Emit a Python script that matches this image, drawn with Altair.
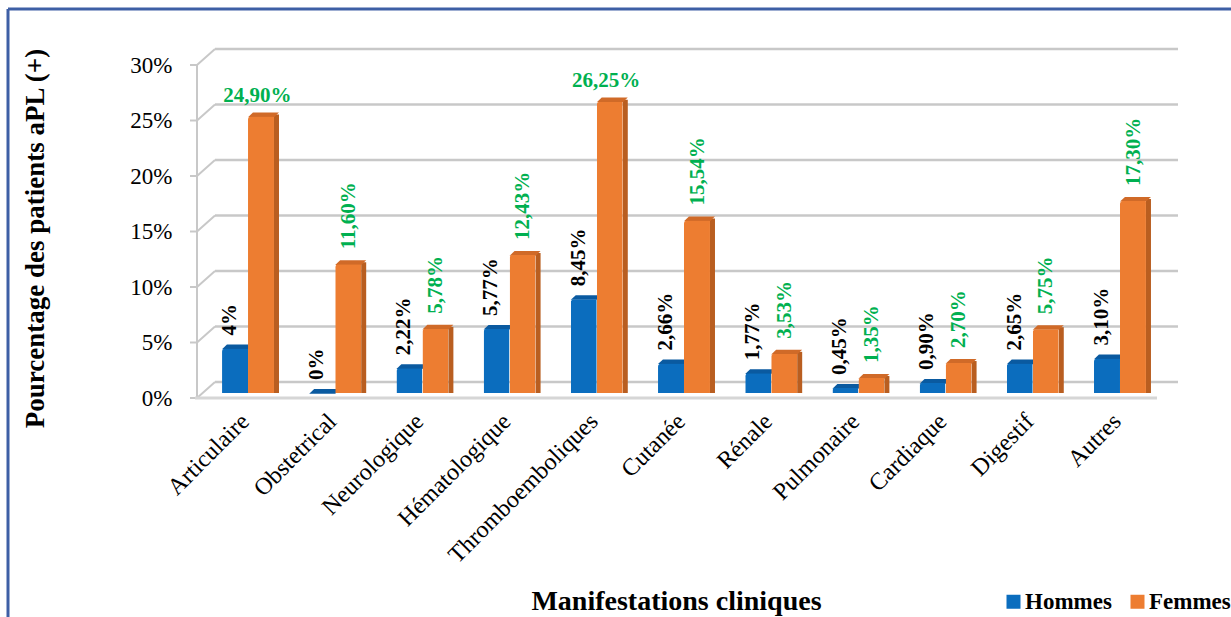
import altair as alt
import pandas as pd

categories = ["Articulaire", "Obstetrical", "Neurologique", "Hématologique",
              "Thromboemboliques", "Cutanée", "Rénale", "Pulmonaire",
              "Cardiaque", "Digestif", "Autres"]
series = ["Hommes", "Femmes"]
hommes = [4, 0, 2.22, 5.77, 8.45, 2.66, 1.77, 0.45, 0.90, 2.65, 3.10]
femmes = [24.90, 11.60, 5.78, 12.43, 26.25, 15.54, 3.53, 1.35, 2.70, 5.75, 17.30]
hommes_labels = ["4%", "0%", "2,22%", "5,77%", "8,45%", "2,66%", "1,77%",
                 "0,45%", "0,90%", "2,65%", "3,10%"]
femmes_labels = ["24,90%", "11,60%", "5,78%", "12,43%", "26,25%", "15,54%",
                 "3,53%", "1,35%", "2,70%", "5,75%", "17,30%"]
y_ticks = [0, 5, 10, 15, 20, 25, 30]
horizontal_cats = ["Articulaire", "Thromboemboliques"]

FONT = "Liberation Serif"
BLUE, ORANGE = "#0B6DBE", "#ED7D31"
DBLUE, DORANGE = "#0A5599", "#B95E20"
TBLUE, TORANGE = "#0A5AA0", "#D06A28"
GRID = "#C8C8C8"
GREEN = "#00B050"
CAP_SHAPE = "M -1 0.05 L 1 0.05 L 1.38 -0.31 L -0.62 -0.31 Z"

rows = []
for c, h, f, hl, fl in zip(categories, hommes, femmes, hommes_labels, femmes_labels):
    rows.append({"cat": c, "sexe": "Hommes", "val": h, "lab": hl})
    rows.append({"cat": c, "sexe": "Femmes", "val": f, "lab": fl})
df = pd.DataFrame(rows)
ticks_df = pd.DataFrame({"t": y_ticks})
one = pd.DataFrame({"k": [0]})

yscale = alt.Scale(domain=[0, 30], nice=False)
xscale = alt.Scale(paddingInner=0.404, paddingOuter=0.287)

yaxis = alt.Axis(values=y_ticks, labelExpr="datum.value + '%'", grid=False,
                 domain=False, ticks=False, labelPadding=25, labelOffset=5,
                 labelFont=FONT, labelFontSize=23, labelColor="#000",
                 title="Pourcentage des patients aPL (+)", titleFont=FONT,
                 titleFontSize=27, titleFontWeight="bold", titleColor="#000",
                 titleX=-162, titleY=178, titleAngle=270, titleAlign="center",
                 titleBaseline="middle")
xaxis = alt.Axis(labelAngle=-45, labelAlign="right", labelBaseline="top",
                 ticks=False, tickSize=0, domain=False, grid=False,
                 labelPadding=16, labelOffset=-11, labelFont=FONT,
                 labelFontSize=24, labelColor="#000", labelLimit=400,
                 labelOverlap=False,
                 title="Manifestations cliniques", titleFont=FONT,
                 titleFontSize=28, titleFontWeight="bold", titleColor="#000",
                 titleX=479, titleY=208, titleAlign="center",
                 titleBaseline="middle")


def X(**kw):
    return alt.X("cat:N", sort=categories, scale=xscale, axis=xaxis, **kw)


def Yv():
    return alt.Y("val:Q", scale=yscale, axis=yaxis)


def Yt(agg="t:Q"):
    return alt.Y(agg, scale=yscale, axis=yaxis)


xoff = alt.XOffset("sexe:N", sort=series,
                   scale=alt.Scale(domain=series, paddingInner=0, paddingOuter=0))

grid_back = alt.Chart(ticks_df).mark_rule(color=GRID, strokeWidth=2.5, yOffset=-11).encode(
    y=Yt(), x=alt.value(18), x2=alt.value(981))
diag = alt.Chart(ticks_df).mark_rule(color=GRID, strokeWidth=2, yOffset=5, y2Offset=-11).encode(
    y=Yt(), y2=alt.Y2("t:Q"), x=alt.value(0), x2=alt.value(18))
tick_marks = alt.Chart(ticks_df).mark_rule(color=GRID, strokeWidth=2, yOffset=5).encode(
    y=Yt(), x=alt.value(-7), x2=alt.value(0))
front_axis = alt.Chart(ticks_df).mark_rule(color=GRID, strokeWidth=2, yOffset=5, y2Offset=5).encode(
    y=Yt("max(t):Q"), y2=alt.Y2("min(t):Q"), x=alt.value(0))
floor_front = alt.Chart(ticks_df).transform_filter("datum.t == 0").mark_rule(
    color="#D6D6D6", strokeWidth=3, yOffset=5).encode(
    y=Yt(), x=alt.value(-2), x2=alt.value(960))

# 3D side face of the orange bars
side_f = alt.Chart(df).transform_filter("datum.sexe == 'Femmes'").transform_calculate(
    zero="0").mark_rule(strokeWidth=5, color=DORANGE, xOffset=2.5, yOffset=-2).encode(
    x=X(bandPosition=1), y=Yv(), y2=alt.Y2("zero:Q"))

# 3D top faces
top_h = alt.Chart(df).transform_filter("datum.sexe == 'Hommes'").mark_point(
    shape=CAP_SHAPE, size=676, filled=True, opacity=1, strokeWidth=0,
    color=TBLUE).encode(x=X(bandPosition=0.25), y=Yv())
top_f = alt.Chart(df).transform_filter("datum.sexe == 'Femmes'").mark_point(
    shape=CAP_SHAPE, size=676, filled=True, opacity=1, strokeWidth=0,
    color=TORANGE).encode(x=X(bandPosition=0.75), y=Yv())

bars = alt.Chart(df).mark_bar(cornerRadiusTopLeft=3, cornerRadiusTopRight=1).encode(
    x=X(), xOffset=xoff, y=Yv(),
    color=alt.Color("sexe:N", scale=alt.Scale(domain=series, range=[BLUE, ORANGE]),
                    legend=alt.Legend(orient="none", legendX=805, legendY=530,
                                      direction="horizontal", title=None,
                                      symbolType="square", symbolSize=196,
                                      symbolStrokeWidth=0, labelFont=FONT,
                                      labelFontSize=23, labelFontWeight="bold",
                                      labelColor="#000", columnPadding=14,
                                      labelOffset=0, padding=0)))

lab_h = alt.Chart(df).transform_filter("datum.sexe == 'Hommes'").mark_text(
    angle=270, align="left", baseline="middle", font=FONT, fontSize=21,
    fontWeight="bold", color="#000", yOffset=-13).encode(
    x=X(bandPosition=0.15), y=Yv(), text="lab:N")

hz = " || ".join([f"datum.cat == '{c}'" for c in horizontal_cats])
lab_fv = alt.Chart(df).transform_filter(f"datum.sexe == 'Femmes' && !({hz})").mark_text(
    angle=270, align="left", baseline="middle", font=FONT, fontSize=21,
    fontWeight="bold", color=GREEN, yOffset=-15).encode(
    x=X(bandPosition=0.76), y=Yv(), text="lab:N")
lab_fh = alt.Chart(df).transform_filter(f"datum.sexe == 'Femmes' && ({hz})").mark_text(
    align="center", baseline="bottom", font=FONT, fontSize=21,
    fontWeight="bold", color=GREEN, yOffset=-11).encode(
    x=X(bandPosition=0.68), y=Yv(), text="lab:N")

border_top = alt.Chart(one).mark_rule(color="#3E5FA5", strokeWidth=3).encode(
    x=alt.value(-189), x2=alt.value(1100), y=alt.value(-51))
border_left = alt.Chart(one).mark_rule(color="#3E5FA5", strokeWidth=3).encode(
    x=alt.value(-189), y=alt.value(-51), y2=alt.value(600))

chart = alt.layer(
    grid_back, diag, tick_marks, front_axis, side_f, top_h, top_f, bars,
    floor_front, lab_h, lab_fv, lab_fh, border_top, border_left
).properties(
    width=974, height=333,
    padding={"left": 197, "top": 60, "right": 60, "bottom": 224},
    autosize=alt.AutoSizeParams(type="none"),
    background="white"
).configure_view(stroke=None)

chart.save("out.html", embed_options={"renderer": "svg", "actions": False})
